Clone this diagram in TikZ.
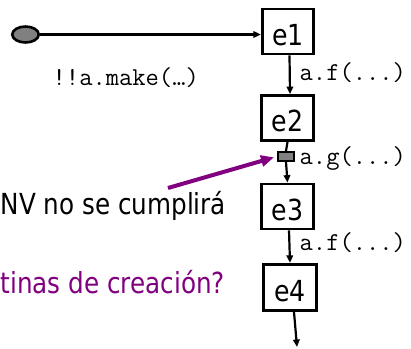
\documentclass[tikz,border=0pt]{standalone}
\usepackage{fontspec}
\usetikzlibrary{arrows.meta,shapes.geometric}
\newfontfamily\tahf{DejaVu Sans}[FakeStretch=0.87]
\newfontfamily\tahn{DejaVu Sans}[FakeStretch=0.85]
\definecolor{purp}{RGB}{128,0,128}
\definecolor{fillgr}{RGB}{128,128,128}
\tikzset{
  stbox/.style={draw=black, line width=2.8pt, minimum width=51.5pt, minimum height=45pt,
    inner sep=0pt, font=\tahf\fontsize{29}{34}\selectfont, text height=27pt, text depth=0pt},
  conn/.style={line width=2.2pt, -{Triangle[length=7.5pt,width=6.5pt]}},
  plainconn/.style={line width=2.2pt},
  monolab/.style={font=\ttfamily\fontsize{25.8}{30}\selectfont, inner sep=0pt, anchor=base west},
  bigtext/.style={font=\tahn\fontsize{29}{34}\selectfont, inner sep=0pt, anchor=base west}
}
\begin{document}
\begin{tikzpicture}[x=1pt,y=-1pt]
\useasboundingbox (0,0) rectangle (411,348);
\clip (0,0) rectangle (411,348);
% start ellipse
\node[ellipse, draw=black, line width=2.6pt, fill=fillgr, minimum width=26.5pt, minimum height=16pt, inner sep=0pt] (el) at (25.5,34.5) {};
% states
\node[stbox] (e1) at (288,31.5) {e1};
\node[stbox] (e2) at (287.5,118) {e2};
\node[stbox] (e3) at (287.5,206.5) {e3};
\node[stbox, minimum width=53pt, minimum height=46.5pt] (e4) at (290,287.5) {e4};
% small grey box
\node[draw=black, line width=2.2pt, fill=fillgr, minimum width=16pt, minimum height=9pt, inner sep=0pt] (gq) at (286,156.5) {};
\coordinate (out) at (297,347);
\coordinate (ps) at (168,188);
% connectors
\draw[conn] (el.east) -- (el -| e1.west);
\draw[conn] ([xshift=1.5pt]e1.south) -- ([xshift=2.5pt]e2.north);
\draw[plainconn] (e2.south) -- (gq.north);
\draw[conn] (gq.south) -- (e3.north);
\draw[conn] ([xshift=1.5pt]e3.south) -- (e4.north);
\draw[conn] ([xshift=4pt]e4.south) -- (out);
\draw[line width=4pt, purp, -{Triangle[length=13pt,width=11pt]}, shorten >=3pt] (ps) -- (gq.west);
% labels
\node[monolab] (l1) at (52.5,85) {!!a.make(…)};
\node[monolab] (l2) at (299.5,80) {a.f(...)};
\node[monolab] (l3) at (299.5,164) {a.g(...)};
\node[monolab] (l4) at (299.5,250) {a.f(...)};
\node[bigtext] (t1) at (0.5,214) {NV no se cumplirá};
\node[bigtext, text=purp] (t2) at (0.5,293) {tinas de creación?};
\end{tikzpicture}
\end{document}
